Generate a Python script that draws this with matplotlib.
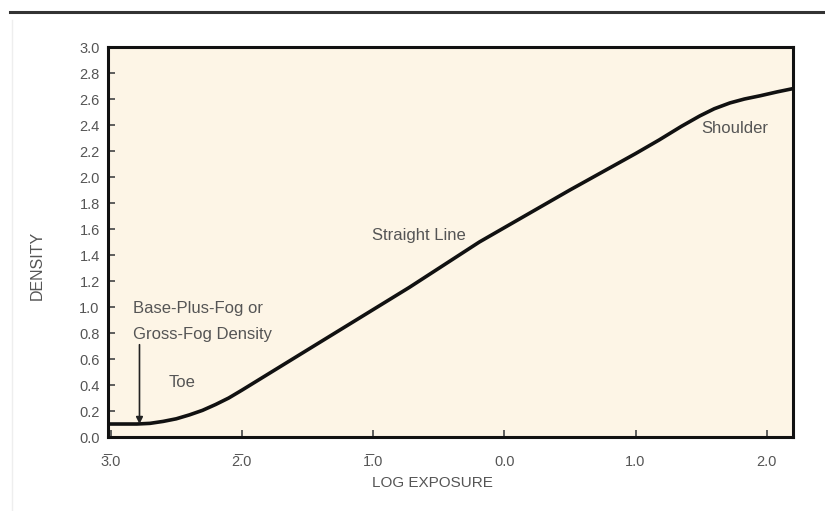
import numpy as np
import matplotlib.pyplot as plt
from matplotlib.lines import Line2D

plt.rcParams['font.family'] = ['Liberation Sans', 'DejaVu Sans']

# characteristic curve
log_exposure = [-3.02, -2.9, -2.8, -2.7, -2.6, -2.5, -2.4, -2.3, -2.2, -2.1,
                -2.0, -1.5, -0.725, -0.19, 0.5, 1.0, 1.18, 1.35, 1.49, 1.6,
                1.72, 1.83, 1.95, 2.08, 2.2]
density = [0.10, 0.10, 0.10, 0.105, 0.12, 0.14, 0.17, 0.205, 0.25, 0.30,
           0.36, 0.67, 1.15, 1.50, 1.90, 2.18, 2.285, 2.39, 2.47, 2.525,
           2.57, 2.60, 2.625, 2.655, 2.68]

x_ticks = [-3, -2, -1, 0, 1, 2]
x_tick_labels = ['3\u0305.0', '2\u0305.0', '1\u0305.0', '0.0', '1.0', '2.0']
y_ticks = np.round(np.arange(0, 3.01, 0.2), 1)

fig = plt.figure(figsize=(8.25, 5.11), dpi=100)
ax = fig.add_axes([0.1309, 0.1448, 0.9612 - 0.1309, 0.908 - 0.1448])
ax.set_facecolor('#fdf5e6')

ax.plot(log_exposure, density, color='#111111', lw=2.6, solid_joinstyle='round')

ax.set_xlim(-3.02, 2.2)
ax.set_ylim(0, 3.0)
ax.set_xticks(x_ticks)
ax.set_xticklabels(x_tick_labels)
ax.set_yticks(y_ticks)
ax.set_yticklabels(['%.1f' % v for v in y_ticks])
ax.tick_params(direction='in', length=5, width=1.2, color='#444444',
               labelsize=10.5, labelcolor='#555555')
ax.tick_params(axis='x', pad=21)
ax.tick_params(axis='y', pad=6)
for lbl in ax.get_xticklabels():
    lbl.set_va('baseline')
for s in ax.spines.values():
    s.set_linewidth(2.2)
    s.set_color('#111111')

ax.set_xlabel('LOG EXPOSURE', fontsize=11, color='#555555')
ax.xaxis.set_label_coords(0.473, -0.118)
ax.xaxis.label.set_va('center')
ax.set_ylabel('DENSITY', fontsize=11.5, color='#555555')
ax.yaxis.set_label_coords(-0.104, 0.44)
ax.yaxis.label.set_va('center')

tc = '#555555'
fs = 12
ax.text(-2.83, 0.99, 'Base-Plus-Fog or', fontsize=fs, color=tc, va='center')
ax.text(-2.83, 0.79, 'Gross-Fog Density', fontsize=fs, color=tc, va='center')
ax.text(-2.56, 0.42, 'Toe', fontsize=fs, color=tc, va='center')
ax.text(-1.01, 1.55, 'Straight Line', fontsize=fs, color=tc, va='center')
ax.text(1.5, 2.37, 'Shoulder', fontsize=fs, color=tc, va='center')
ax.annotate('', xy=(-2.78, 0.10), xytext=(-2.78, 0.71),
            arrowprops=dict(arrowstyle='-|>', color='#222222', lw=1.2,
                            mutation_scale=10, shrinkA=0, shrinkB=0))

# rule at the top of the page
fig.add_artist(Line2D([0.012, 1.0], [0.977, 0.977], color='#333333', lw=2.2))
fig.add_artist(Line2D([0.014, 0.014], [0.0, 0.96], color='#eeeeee', lw=1))

fig.savefig('out.png', dpi=100)
